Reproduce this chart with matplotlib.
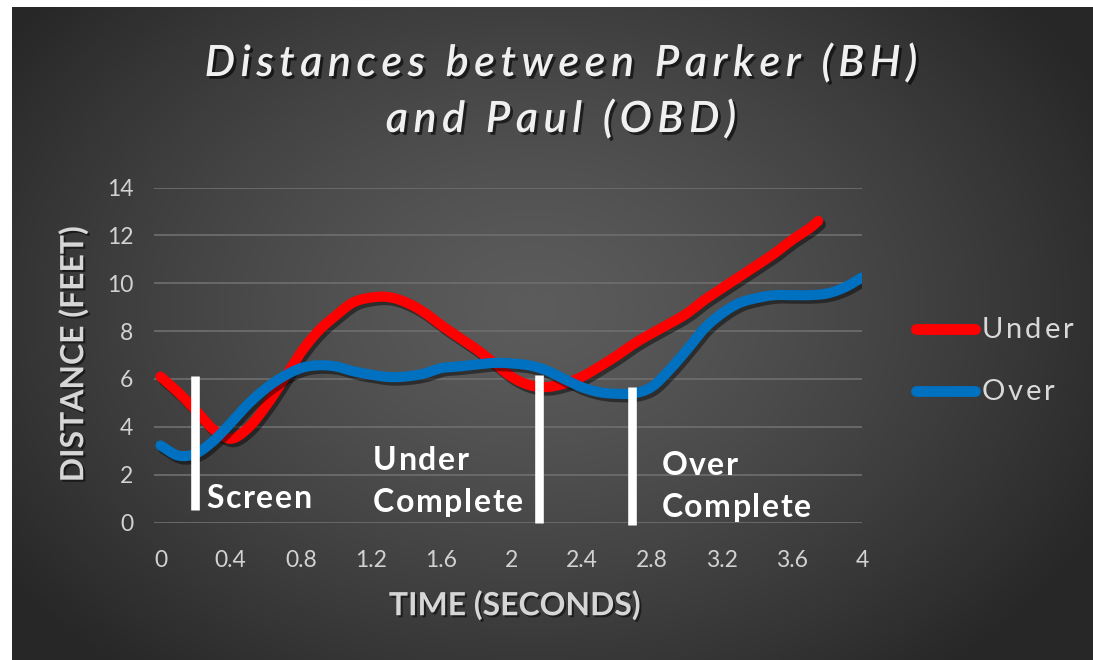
import numpy as np
import matplotlib
matplotlib.use("Agg")
import matplotlib.pyplot as plt
import matplotlib.patheffects as pe
from matplotlib.font_manager import FontProperties, findfont
from matplotlib.ft2font import FT2Font

plt.rcParams['font.family'] = ['Lato', 'DejaVu Sans']

# ---------------- data ----------------
time_under = [0.0, 0.1, 0.2, 0.3, 0.4, 0.5, 0.6, 0.7, 0.8, 0.9, 1.0, 1.1, 1.2, 1.3,
              1.4, 1.5, 1.6, 1.7, 1.8, 1.9, 2.0, 2.1, 2.2, 2.3, 2.4, 2.5, 2.6, 2.7,
              2.8, 2.9, 3.0, 3.1, 3.2, 3.3, 3.4, 3.5, 3.6, 3.7, 3.75]
under = [6.1, 5.45, 4.7, 3.9, 3.5, 3.95, 4.85, 5.95, 7.1, 8.0, 8.65, 9.2, 9.4, 9.42,
         9.2, 8.8, 8.25, 7.75, 7.25, 6.68, 6.1, 5.75, 5.66, 5.8, 6.08, 6.5, 6.96, 7.47,
         7.9, 8.3, 8.73, 9.29, 9.78, 10.26, 10.75, 11.24, 11.8, 12.29, 12.6]

time_over = [0.0, 0.1, 0.2, 0.3, 0.4, 0.5, 0.6, 0.7, 0.8, 0.9, 1.0, 1.1, 1.2, 1.3,
             1.4, 1.5, 1.6, 1.7, 1.8, 1.9, 2.0, 2.1, 2.2, 2.3, 2.4, 2.5, 2.6, 2.7,
             2.8, 2.9, 3.0, 3.1, 3.2, 3.3, 3.4, 3.5, 3.6, 3.7, 3.8, 3.9, 4.0]
over = [3.22, 2.8, 2.88, 3.4, 4.15, 4.95, 5.6, 6.1, 6.45, 6.57, 6.52, 6.32, 6.18, 6.08,
        6.1, 6.22, 6.45, 6.52, 6.6, 6.67, 6.65, 6.57, 6.36, 6.0, 5.66, 5.45, 5.38, 5.4,
        5.66, 6.36, 7.2, 8.1, 8.73, 9.17, 9.38, 9.5, 9.5, 9.5, 9.57, 9.82, 10.24]

x_ticks = [0, 0.4, 0.8, 1.2, 1.6, 2, 2.4, 2.8, 3.2, 3.6, 4]
x_tick_labels = ["0", "0.4", "0.8", "1.2", "1.6", "2", "2.4", "2.8", "3.2", "3.6", "4"]
y_ticks = [0, 2, 4, 6, 8, 10, 12, 14]

# event markers: (time, top, bottom)
marker_times = [0.197, 2.158, 2.69]
marker_tops = [6.12, 6.15, 5.65]
marker_bottoms = [0.52, 0.0, -0.1]

# annotation labels: (text, time, baseline value)
annotations = [("Screen", 0.263, 0.6), ("Under", 1.213, 2.19), ("Complete", 1.213, 0.45),
               ("Over", 2.857, 1.98), ("Complete", 2.857, 0.22)]

series_names = ["Under", "Over"]
series_colors = ['#ff0000', '#0070c0']
title_lines = ["Distances between Parker (BH)", "and Paul (OBD)"]


def smooth(xs, ys, n=24):
    pts = np.column_stack([xs, ys]).astype(float)
    P = np.vstack([2 * pts[0] - pts[1], pts, 2 * pts[-1] - pts[-2]])
    out = []
    t = np.linspace(0, 1, n, endpoint=False)[:, None]
    for i in range(1, len(P) - 2):
        p0, p1, p2, p3 = P[i - 1], P[i], P[i + 1], P[i + 2]
        seg = 0.5 * ((2 * p1) + (-p0 + p2) * t + (2 * p0 - 5 * p1 + 4 * p2 - p3) * t ** 2
                     + (-p0 + 3 * p1 - 3 * p2 + p3) * t ** 3)
        out.append(seg)
    out.append(pts[-1:])
    a = np.vstack(out)
    return a[:, 0], a[:, 1]


W, H = 1093, 660
fig = plt.figure(figsize=(W / 100, H / 100), dpi=100, facecolor='white')

# background gradient
bg = fig.add_axes([12 / W, 0, 1 - 12 / W, 1 - 7 / H])
bg.set_axis_off()
gy, gx = np.mgrid[0:H - 7, 0:W - 12]
cx, cy = 520, 300
d = np.sqrt(((gx - cx) / 640.0) ** 2 + ((gy - cy) / 470.0) ** 2)
d = np.clip(d, 0, 1)
c_center, c_edge = 0.36, 0.155
val = c_center - (c_center - c_edge) * d ** 1.3
img = np.dstack([val, val, val])
bg.imshow(img, aspect='auto', interpolation='bilinear', extent=[0, 1, 0, 1])
bg.set_xlim(0, 1)
bg.set_ylim(0, 1)

# main axes
x_left_px, x_right_px = 154, 862
y_top_px, y_bot_px = 187.5, 522.5
ax = fig.add_axes([x_left_px / W, 1 - y_bot_px / H,
                   (x_right_px - x_left_px) / W, (y_bot_px - y_top_px) / H])
ax.patch.set_alpha(0)
ax.set_xlim(-0.037, 4.0)
ax.set_ylim(0, 14)
for s in ax.spines.values():
    s.set_visible(False)
ax.set_yticks(y_ticks)
ax.set_xticks(x_ticks)
ax.set_xticklabels(x_tick_labels)
ax.tick_params(axis='both', length=0, labelsize=16.5, colors='#d2d2d2')
ax.tick_params(axis='x', pad=20)
ax.tick_params(axis='y', pad=15)
ax.yaxis.grid(True, color='#6c6c6c', lw=1.3)
ax.set_axisbelow(True)

shadow = [pe.SimpleLineShadow(offset=(2, -2.5), shadow_color='black', alpha=0.45), pe.Normal()]

for (tx, ty), name, col, z in zip([(time_under, under), (time_over, over)], series_names,
                                  series_colors, [3, 4]):
    xs, ys = smooth(tx, ty)
    ax.plot(xs, ys, color=col, lw=7.3, solid_capstyle='round', solid_joinstyle='round',
            path_effects=shadow, zorder=z, label=name)

for t, top, bot in zip(marker_times, marker_tops, marker_bottoms):
    ax.plot([t, t], [bot, top], color='white', lw=6.2, solid_capstyle='butt', zorder=5,
            clip_on=False)

# overlay axes in pixel coordinates (y downward)
ov = fig.add_axes([0, 0, 1, 1])
ov.set_axis_off()
ov.set_xlim(0, W)
ov.set_ylim(H, 0)


def tracked_text(x, y, s, prop, track, color, ha='left', effects=None, zorder=6):
    ft = FT2Font(findfont(prop))
    ft.set_size(prop.get_size_in_points(), 100)
    adv = [ft.load_char(ord(ch)).linearHoriAdvance / 65536.0 for ch in s]
    total = sum(adv) + track * (len(s) - 1)
    if ha == 'center':
        x = x - total / 2
    for ch, a in zip(s, adv):
        if ch != ' ':
            ov.text(x, y, ch, fontproperties=prop, color=color, ha='left', va='baseline',
                    path_effects=effects, zorder=zorder)
        x += a + track


# annotations (data coords -> pixel coords)
ann_prop = FontProperties(family=['Lato', 'DejaVu Sans'], weight='bold', size=23)
for text, t, v in annotations:
    dx, dy = ax.transData.transform((t, v))
    tracked_text(dx, H - dy, text, ann_prop, 1.6, 'white')

# legend
leg_prop = FontProperties(family=['Lato', 'DejaVu Sans'], size=21)
for yy, col, lab in zip([328.5, 391], series_colors, series_names):
    ov.plot([915.5, 974.5], [yy, yy], color=col, lw=7.8, solid_capstyle='round')
    tracked_text(981.5, yy + 9, lab, leg_prop, 3.0, '#d9d9d9')

# title with letter spacing
title_prop = FontProperties(family=['Lato', 'DejaVu Sans'], style='italic', weight='semibold',
                            size=31)
title_shadow = [pe.withSimplePatchShadow(offset=(2, -2), shadow_rgbFace='black', alpha=0.6)]
for line, base in zip(title_lines, [76, 132]):
    tracked_text(561, base, line, title_prop, 5.5, '#f0f0f0', ha='center', effects=title_shadow)

lab_kw = dict(color='#d6d6d6', fontsize=23, fontweight='bold',
              path_effects=[pe.withSimplePatchShadow(offset=(1.5, -1.5), shadow_rgbFace='black', alpha=0.5)])
ov.text(515, 605, "TIME (SECONDS)", ha='center', va='center', **lab_kw)
ov.text(73, 354, "DISTANCE (FEET)", ha='center', va='center', rotation=90, **lab_kw)

fig.savefig('out.png', dpi=100, facecolor='white')
